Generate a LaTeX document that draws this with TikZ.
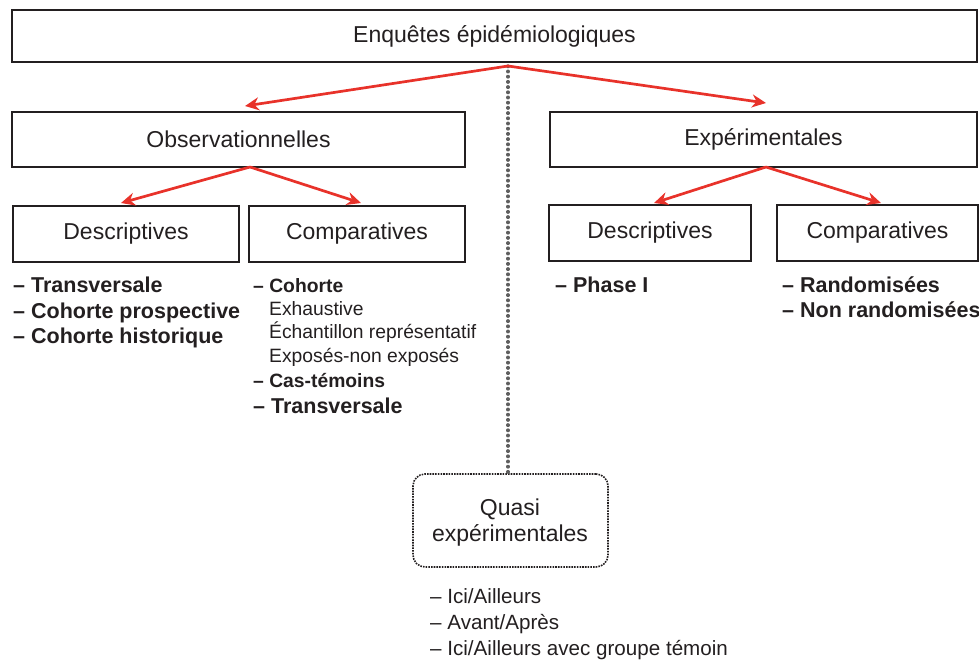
\documentclass[tikz,border=0pt]{standalone}
\usepackage{fontspec}
\setmainfont{Liberation Sans}
\usetikzlibrary{arrows.meta,calc}
\definecolor{ink}{RGB}{35,31,32}
\definecolor{arrowred}{RGB}{232,50,42}
\definecolor{dotgray}{RGB}{95,95,95}
\tikzset{
  box/.style={draw=ink,line width=1.8pt,inner sep=0pt,text=ink,font=\fontsize{23}{27}\selectfont},
  redarrow/.style={draw=arrowred,line width=2.7pt,-{Stealth[length=14pt,width=13pt]}},
  bitem/.style={anchor=base west,inner sep=0pt,text=ink,font=\bfseries\fontsize{21.5}{25}\selectfont},
  sitem/.style={anchor=base west,inner sep=0pt,text=ink,font=\bfseries\fontsize{19.3}{23}\selectfont},
  ritem/.style={anchor=base west,inner sep=0pt,text=ink,font=\fontsize{19.3}{23}\selectfont},
  qitem/.style={anchor=base west,inner sep=0pt,text=ink,font=\fontsize{20.6}{24}\selectfont},
  qtext/.style={anchor=base,inner sep=0pt,text=ink,font=\fontsize{23}{27}\selectfont},
  quasibox/.style={draw=ink,line width=1.6pt,dash pattern=on 1.6pt off 1.1pt,rounded corners=12pt,inner sep=0pt},
  dotline/.style={draw=dotgray,line width=3.3pt,line cap=round,dash pattern=on 0.6pt off 4.6pt},
}
\begin{document}
\begin{tikzpicture}[x=1pt,y=-1pt]
\useasboundingbox (0,0) rectangle (979,662);
% boxes
\node[box,minimum width=965pt,minimum height=52pt] (top) at (494.5,36) {Enquêtes épidémiologiques};
\node[box,minimum width=453pt,minimum height=55pt] (obs) at (238.5,139.5) {Observationnelles};
\node[box,minimum width=427pt,minimum height=55pt] (exp) at (763.5,139.5) {Expérimentales};
\node[box,minimum width=226pt,minimum height=56pt] (desc1) at (126,234) {Descriptives};
\node[box,minimum width=216pt,minimum height=56pt] (comp1) at (357,234) {Comparatives};
\node[box,minimum width=202pt,minimum height=56pt] (desc2) at (650,233) {Descriptives};
\node[box,minimum width=201pt,minimum height=56pt] (comp2) at (877.5,233) {Comparatives};
\node[quasibox,minimum width=195pt,minimum height=93pt] (quasi) at (510.5,520.5) {};
% coordinates for arrows
\coordinate (hub) at (508,66);
\coordinate (obstip) at (245,106);
\coordinate (exptip) at (766,103);
\coordinate (obsfoot) at (250,167);
\coordinate (expfoot) at (766,167);
\coordinate (d1tip) at (121,203);
\coordinate (c1tip) at (361,203);
\coordinate (d2tip) at (654,203);
\coordinate (c2tip) at (881,203);
\coordinate (qtop) at (508,473);
% dotted line
\draw[dotline] (hub) -- (qtop);
% arrows
\draw[redarrow] (hub) -- (obstip);
\draw[redarrow] (hub) -- (exptip);
\draw[redarrow] (obsfoot) -- (d1tip);
\draw[redarrow] (obsfoot) -- (c1tip);
\draw[redarrow] (expfoot) -- (d2tip);
\draw[redarrow] (expfoot) -- (c2tip);
% quasi text
\node[qtext] (q1) at (510,515) {Quasi};
\node[qtext] (q2) at (510,541) {expérimentales};
% left list
\node[bitem] (l1) at (13,292.5) {– Transversale};
\node[bitem] (l2) at (13,318) {– Cohorte prospective};
\node[bitem] (l3) at (13,343.5) {– Cohorte historique};
% comparatives list
\node[sitem] (c1) at (253,292) {– Cohorte};
\node[ritem] (c2) at (269,315) {Exhaustive};
\node[ritem] (c3) at (269,338.5) {Échantillon représentatif};
\node[ritem] (c4) at (269,362) {Exposés-non exposés};
\node[sitem] (c5) at (253,387) {– Cas-témoins};
\node[bitem] (c6) at (253,413) {– Transversale};
% experimental lists
\node[bitem] (p1) at (555,292) {– Phase I};
\node[bitem] (r1) at (782,292) {– Randomisées};
\node[bitem] (r2) at (782,317.5) {– Non randomisées};
% quasi list
\node[qitem] (i1) at (430,603) {– Ici/Ailleurs};
\node[qitem] (i2) at (430,629) {– Avant/Après};
\node[qitem] (i3) at (430,655) {– Ici/Ailleurs avec groupe témoin};
\end{tikzpicture}
\end{document}
